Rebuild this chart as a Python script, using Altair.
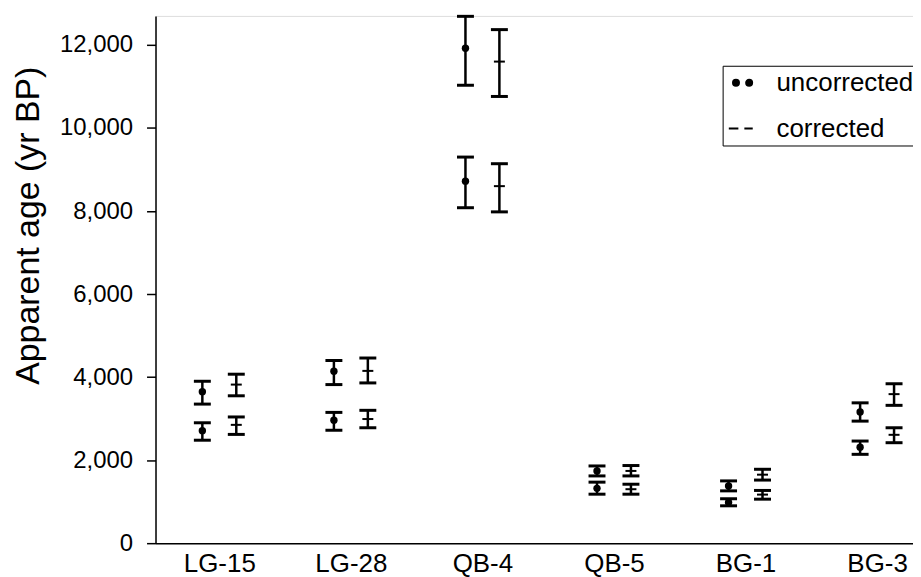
import altair as alt
import pandas as pd

samples = ["LG-15", "LG-28", "QB-4", "QB-5", "BG-1", "BG-3"]
series_names = ["uncorrected", "corrected"]

# two dated levels per sample (upper, lower)
date_sample = ["LG-15", "LG-15", "LG-28", "LG-28", "QB-4", "QB-4",
               "QB-5", "QB-5", "BG-1", "BG-1", "BG-3", "BG-3"]
uncorr_age = [3650, 2710, 4140, 2960, 11920, 8720, 1740, 1320, 1380, 980, 3160, 2310]
uncorr_lo = [3350, 2480, 3820, 2720, 11030, 8080, 1620, 1180, 1260, 900, 2940, 2140]
uncorr_hi = [3900, 2900, 4400, 3150, 12690, 9300, 1860, 1470, 1500, 1070, 3380, 2460]
corr_age = [3820, 2850, 4150, 2990, 11600, 8600, 1740, 1300, 1650, 1170, 3590, 2610]
corr_lo = [3550, 2620, 3860, 2780, 10760, 7980, 1620, 1180, 1520, 1060, 3320, 2420]
corr_hi = [4070, 3040, 4460, 3200, 12370, 9140, 1870, 1420, 1780, 1270, 3840, 2780]

rows = []
for i, s in enumerate(date_sample):
    rows.append({"sample": s, "idx": samples.index(s), "series": "uncorrected",
                 "age": uncorr_age[i], "lo": uncorr_lo[i], "hi": uncorr_hi[i]})
    rows.append({"sample": s, "idx": samples.index(s), "series": "corrected",
                 "age": corr_age[i], "lo": corr_lo[i], "hi": corr_hi[i]})
df = pd.DataFrame(rows)

FONT = "Liberation Sans"
label_expr = "[" + ",".join("'%s'" % s for s in samples) + "][datum.value]"

xscale = alt.Scale(domain=[-0.485, 5.273], nice=False, zero=False)
yscale = alt.Scale(domain=[0, 12700], nice=False, zero=True)

X = alt.X("xpos:Q", scale=xscale,
          axis=alt.Axis(values=list(range(len(samples))), labelExpr=label_expr,
                        ticks=False, grid=False, title=None, labelFont=FONT,
                        labelFontSize=26, labelColor="black", labelPadding=7,
                        domainColor="black", domainWidth=1.5))
yaxis = alt.Axis(values=[0, 2000, 4000, 6000, 8000, 10000, 12000],
                 labelExpr="format(datum.value, ',.0f')",
                 grid=False, labelFont=FONT, labelFontSize=24, labelColor="black",
                 tickSize=9, tickColor="black", tickWidth=1.5, labelPadding=14,
                 domainColor="black", domainWidth=1.5,
                 title="Apparent age (yr BP)", titleFont=FONT, titleFontSize=34,
                 titleFontWeight="normal", titleColor="black", titleAngle=-90,
                 titleX=-127, titleY=210, titleAlign="center", titleBaseline="middle")

base = alt.Chart(df).transform_calculate(
    xpos="datum.idx + (datum.series == 'uncorrected' ? -0.129 : 0.129)"
)

rules = base.mark_rule(color="black", strokeWidth=2.5).encode(
    x=X, y=alt.Y("lo:Q", scale=yscale, axis=yaxis), y2="hi:Q")
cap_lo = base.mark_tick(orient="horizontal", size=17, thickness=3, color="black", opacity=1).encode(
    x=X, y=alt.Y("lo:Q", scale=yscale, axis=yaxis))
cap_hi = base.mark_tick(orient="horizontal", size=17, thickness=3, color="black", opacity=1).encode(
    x=X, y=alt.Y("hi:Q", scale=yscale, axis=yaxis))
dots = base.transform_filter("datum.series == 'uncorrected'").mark_circle(
    size=55, color="black", opacity=1).encode(x=X, y=alt.Y("age:Q", scale=yscale, axis=yaxis))
mids = base.transform_filter("datum.series == 'corrected'").mark_tick(
    orient="horizontal", size=11, thickness=2, color="black", opacity=1).encode(
    x=X, y=alt.Y("age:Q", scale=yscale, axis=yaxis))


def dot(cx, rr):
    return "M%g,0a%g,%g 0 1,0 %g,0a%g,%g 0 1,0 %g,0Z" % (cx - rr, rr, rr, 2 * rr, rr, rr, -2 * rr)


dot_path = dot(-0.3, 0.25) + dot(0.8, 0.25)
dash_path = "M-0.9,0H-0.1M0.4,0H1.1"

legend_layer = base.mark_point(opacity=0, fill="black", stroke="black", strokeWidth=2).encode(
    x=X, y=alt.Y("age:Q", scale=yscale, axis=yaxis),
    shape=alt.Shape("series:N",
                    scale=alt.Scale(domain=series_names, range=[dot_path, dash_path]),
                    legend=alt.Legend(title=None, orient="none", legendX=569, legendY=50,
                                      strokeColor="black", fillColor="white", padding=4,
                                      symbolSize=576, symbolOpacity=1, symbolStrokeWidth=2,
                                      labelFont=FONT, labelFontSize=26, labelColor="black",
                                      labelOffset=24, rowPadding=20)))

chart = alt.layer(rules, cap_lo, cap_hi, dots, mids, legend_layer).properties(
    width=760, height=529,
    padding={"left": 148, "top": 7, "right": 0, "bottom": 36},
    autosize=alt.AutoSizeParams(type="none"),
).configure_view(stroke=None).configure(font=FONT)

chart.save("out.html", embed_options={"renderer": "svg", "actions": False})
